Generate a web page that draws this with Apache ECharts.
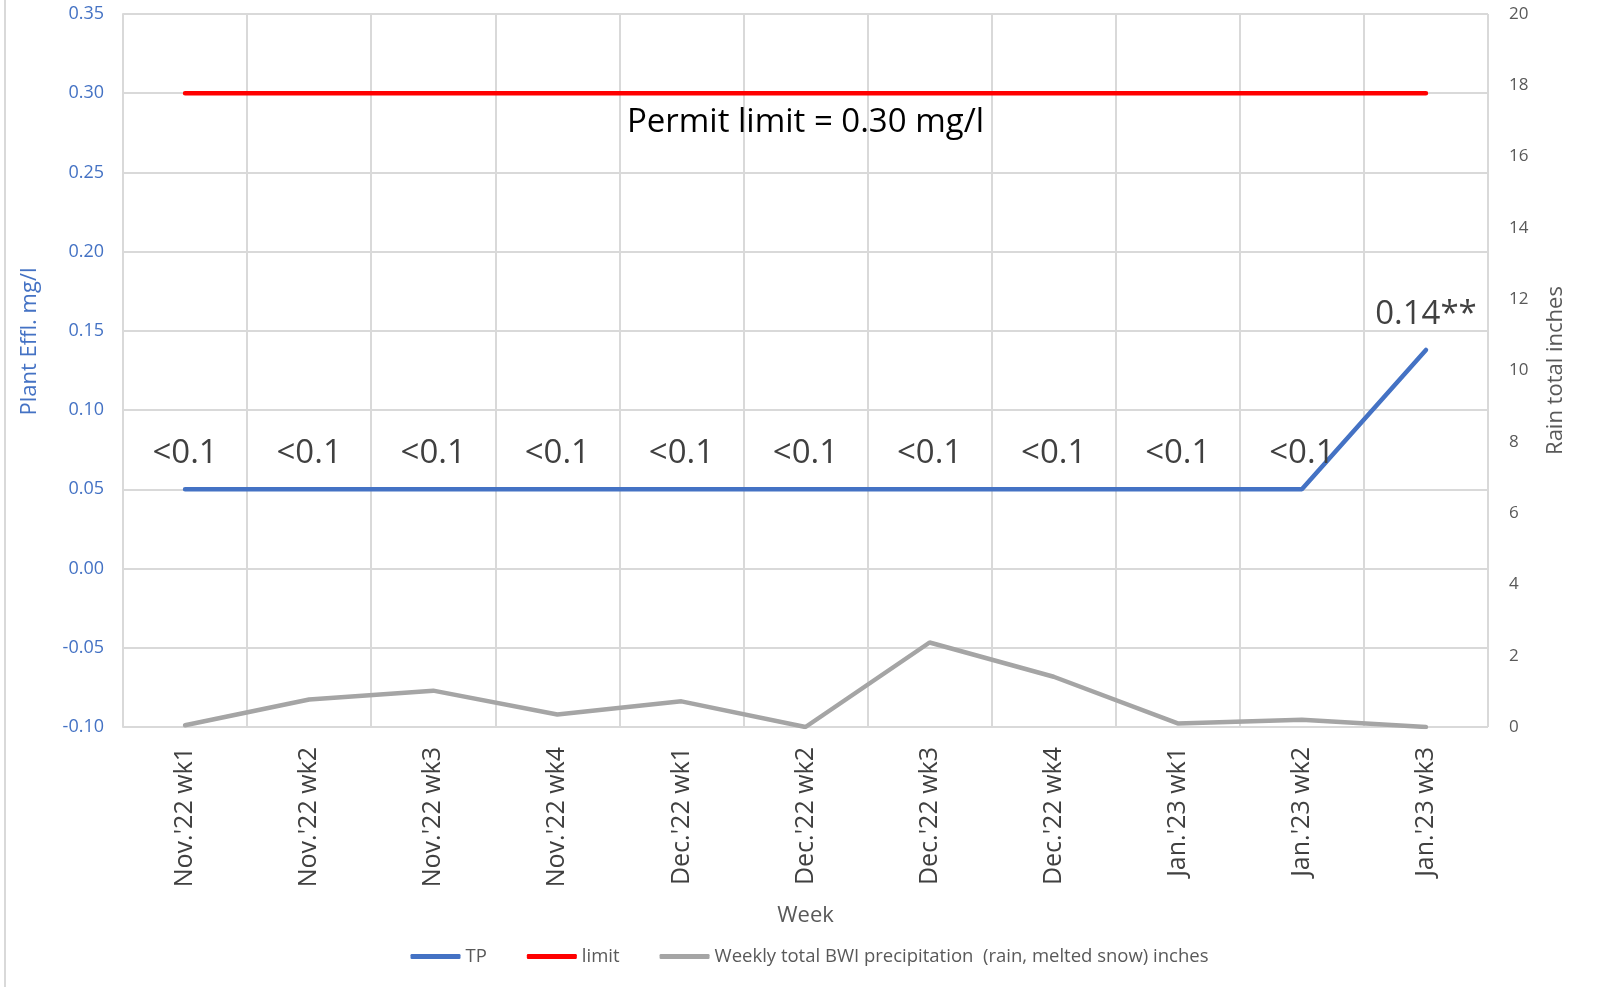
<!DOCTYPE html>
<html>
<head>
<meta charset="utf-8">
<script src="https://cdn.jsdelivr.net/npm/echarts@6/dist/echarts.min.js"></script>
<style>
html,body{margin:0;padding:0;background:#fff;}
#chart{width:1619px;height:987px;}
</style>
</head>
<body>
<div id="chart"></div>
<script>
const categories = ["Nov.'22 wk1","Nov.'22 wk2","Nov.'22 wk3","Nov.'22 wk4","Dec.'22 wk1","Dec.'22 wk2","Dec.'22 wk3","Dec.'22 wk4","Jan.'23 wk1","Jan.'23 wk2","Jan.'23 wk3"];
const tpValues = [0.05,0.05,0.05,0.05,0.05,0.05,0.05,0.05,0.05,0.05,0.138];
const tpLabels = ["<0.1","<0.1","<0.1","<0.1","<0.1","<0.1","<0.1","<0.1","<0.1","<0.1","0.14**"];
const limitValues = [0.30,0.30,0.30,0.30,0.30,0.30,0.30,0.30,0.30,0.30,0.30];
const rainValues = [0.05,0.77,1.02,0.35,0.72,0.0,2.37,1.41,0.10,0.20,0.0];
const limitLabel = "Permit limit = 0.30 mg/l";
const limitLabelIndex = 5;

const chart = echarts.init(document.getElementById('chart'));
const font = "'Open Sans', 'Noto Sans', sans-serif";
const gridColor = '#D9D9D9';
const option = {
  animation: false,
  textStyle: {fontFamily: font},
  grid: {left: 123, right: 131, top: 14, bottom: 260},
  legend: {
    bottom: 16, left: 'center', itemWidth: 50, itemHeight: 5, itemGap: 40,
    icon: 'roundRect',
    textStyle: {color: '#595959', fontSize: 18.5, fontFamily: font},
    data: ['TP','limit','Weekly total BWI precipitation  (rain, melted snow) inches']
  },
  xAxis: {
    type: 'category', data: categories, boundaryGap: true,
    axisLine: {show: true, lineStyle: {color: gridColor, width: 2}},
    axisTick: {show: false},
    splitLine: {show: true, lineStyle: {color: gridColor, width: 2}},
    axisLabel: {rotate: 90, color: '#404040', fontSize: 25, margin: 20, fontFamily: font},
    name: 'Week', nameLocation: 'middle', nameGap: 178,
    nameTextStyle: {color: '#595959', fontSize: 22, fontFamily: font}
  },
  yAxis: [
    {
      type: 'value', min: -0.1, max: 0.35, interval: 0.05,
      axisLine: {show: true, lineStyle: {color: gridColor, width: 2}},
      axisTick: {show: false},
      splitLine: {show: true, lineStyle: {color: gridColor, width: 2}},
      axisLabel: {color: '#4472C4', fontSize: 18, margin: 19, formatter: v => v.toFixed(2)},
      name: 'Plant Effl. mg/l', nameLocation: 'middle', nameGap: 82,
      nameTextStyle: {color: '#4472C4', fontSize: 22, padding: [0, 0, 0, 58]}
    },
    {
      type: 'value', min: 0, max: 20, interval: 2,
      axisLine: {show: false}, axisTick: {show: false}, splitLine: {show: false},
      axisLabel: {color: '#595959', fontSize: 17, margin: 21},
      name: 'Rain total inches', nameLocation: 'middle', nameGap: 57,
      nameTextStyle: {color: '#595959', fontSize: 22}
    }
  ],
  series: [
    {
      name: 'TP', type: 'line', yAxisIndex: 0, data: tpValues,
      symbol: 'circle', symbolSize: 0, showSymbol: true, color: '#4472C4',
      lineStyle: {width: 4.5, color: '#4472C4', cap: 'round'},
      label: {show: true, position: 'top', distance: 19, color: '#404040', fontSize: 33,
        formatter: p => tpLabels[p.dataIndex]},
      labelLayout: {hideOverlap: false}
    },
    {
      name: 'limit', type: 'line', yAxisIndex: 0,
      data: limitValues.map((v, i) => i === limitLabelIndex ? {value: v, label: {show: true}} : v),
      symbol: 'circle', symbolSize: 0, showSymbol: true, color: '#FF0000',
      lineStyle: {width: 4.5, color: '#FF0000', cap: 'round'},
      label: {show: false, position: 'bottom', distance: 13, color: '#000', fontSize: 33,
        formatter: () => limitLabel}
    },
    {
      name: 'Weekly total BWI precipitation  (rain, melted snow) inches', type: 'line', yAxisIndex: 1, data: rainValues,
      symbol: 'none', color: '#A5A5A5',
      lineStyle: {width: 4.5, color: '#A5A5A5', cap: 'round'}
    }
  ],
  graphic: [
    {type: 'line', shape: {x1: 5, y1: 0, x2: 5, y2: 987}, style: {stroke: '#D9D9D9', lineWidth: 2}}
  ]
};
chart.setOption(option);
</script>
</body>
</html>
